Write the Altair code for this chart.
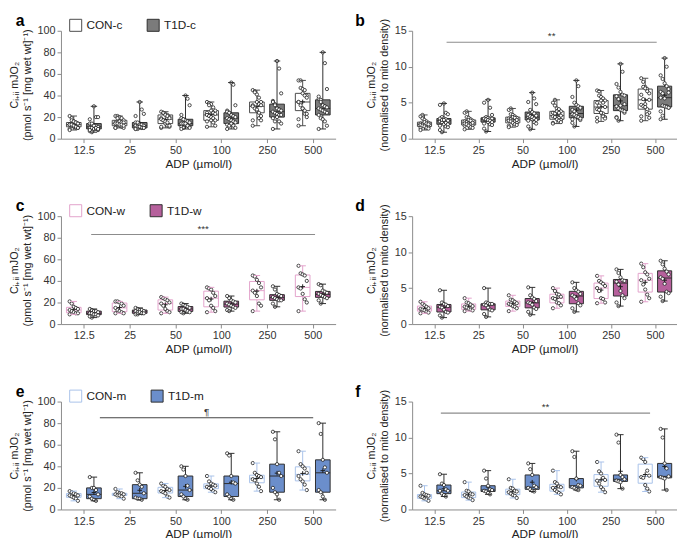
import altair as alt
import pandas as pd

ADP = ["12.5", "25", "50", "100", "250", "500"]

# ---- raw flux (pmol s-1 [mg wet wt]-1), women cohort
CON_W_RAW = [
    [21, 19, 16, 15, 14, 13, 12, 11, 10, 10, 9],
    [21, 21, 20, 19, 17, 15, 13, 12, 11, 10, 10],
    [25, 24, 23, 22, 20, 19, 17, 14, 12, 11, 10],
    [34, 33, 32, 29, 26, 24, 22, 17, 15, 12, 11],
    [45, 44, 41, 38, 34, 31, 29, 26, 19, 17, 12],
    [54, 47, 46, 45, 40, 34, 33, 28, 23, 20, 12],
]
T1D_W_RAW = [
    [14, 13, 12, 12, 11, 10, 10, 9, 9, 8, 7, 6],
    [15, 14, 13, 13, 12, 12, 11, 11, 10, 10, 9, 9],
    [19, 18, 17, 16, 15, 14, 14, 13, 12, 11, 11, 10],
    [26, 24, 22, 21, 20, 19, 18, 17, 16, 15, 13, 12],
    [35, 32, 28, 27, 26, 25, 24, 23, 22, 22, 19, 16],
    [37, 36, 31, 30, 29, 28, 27, 26, 25, 24, 22, 19],
]
# ---- raw flux, men cohort
CON_M_RAW = [
    [17, 16, 15, 14, 13, 13, 12, 11, 10, 8],
    [19, 16, 15, 15, 14, 14, 13, 13, 12, 10],
    [24, 22, 21, 19, 18, 17, 16, 15, 12, 11],
    [31, 26, 24, 23, 22, 21, 20, 19, 17, 16],
    [43, 34, 32, 31, 30, 28, 27, 24, 21, 17],
    [54, 42, 40, 38, 34, 31, 28, 26, 23, 18],
]
T1D_M_RAW = [
    [30, 20, 20, 18, 14, 12, 10, 9, 8],
    [34, 27, 23, 21, 15, 11, 10, 10, 9],
    [40, 37, 31, 22, 18, 14, 12, 10, 9],
    [52, 50, 31, 25, 24, 14, 12, 10, 9],
    [72, 65, 42, 34, 31, 20, 16, 14, 9],
    [80, 70, 46, 39, 34, 18, 16, 12, 9],
]
# ---- normalised to mito density, women
CON_W_NORM = [
    [3.1, 2.8, 2.6, 2.4, 2.2, 2.1, 2.0, 1.9, 1.7, 1.6, 1.5],
    [3.6, 3.0, 2.9, 2.7, 2.5, 2.4, 2.3, 2.1, 2.0, 1.9, 1.8],
    [4.0, 3.4, 3.3, 3.1, 2.9, 2.8, 2.7, 2.5, 2.4, 2.2, 1.8],
    [5.0, 4.6, 4.2, 4.1, 3.8, 3.6, 3.5, 3.0, 2.9, 2.6, 2.2],
    [6.7, 6.0, 5.8, 5.6, 5.3, 5.0, 4.6, 3.6, 3.5, 3.0, 2.9],
    [8.4, 7.9, 7.2, 6.9, 6.3, 6.1, 5.5, 4.8, 4.1, 3.6, 3.1],
]
T1D_W_NORM = [
    [4.7, 3.0, 2.8, 2.7, 2.5, 2.4, 2.3, 2.0, 1.7, 1.6, 1.2, 0.9],
    [5.0, 3.0, 2.9, 2.8, 2.8, 2.7, 2.6, 2.3, 2.0, 1.9, 1.4, 1.0],
    [5.1, 4.0, 3.7, 3.5, 3.2, 3.0, 2.9, 2.7, 2.3, 2.1, 1.7, 1.3],
    [5.8, 5.0, 4.7, 4.5, 4.2, 4.0, 3.8, 3.5, 2.9, 2.6, 2.2, 1.7],
    [7.6, 7.1, 6.5, 6.1, 6.0, 5.9, 5.5, 4.6, 4.0, 3.6, 3.0, 2.5],
    [8.8, 8.3, 7.7, 7.3, 6.9, 6.5, 6.3, 5.6, 4.5, 4.3, 3.8, 3.2],
]
# ---- normalised to mito density, men
CON_M_NORM = [
    [3.3, 2.3, 2.1, 2.0, 1.9, 1.8, 1.7, 1.5, 1.4, 1.2],
    [3.8, 2.6, 2.5, 2.2, 2.1, 2.0, 1.8, 1.6, 1.5, 1.3],
    [4.2, 3.0, 2.9, 2.6, 2.5, 2.4, 2.2, 2.0, 1.9, 1.6],
    [5.4, 3.8, 3.6, 3.2, 3.1, 3.0, 2.7, 2.5, 2.3, 2.1],
    [6.6, 5.3, 5.0, 4.4, 4.1, 4.0, 3.6, 3.1, 2.8, 2.4],
    [7.2, 7.0, 6.6, 5.4, 4.7, 4.5, 4.4, 3.4, 2.9, 2.5],
]
T1D_M_NORM = [
    [4.9, 3.6, 3.4, 2.8, 2.6, 2.6, 2.2, 2.0, 1.8],
    [5.4, 4.3, 3.3, 2.8, 2.7, 2.6, 2.5, 2.3, 2.1],
    [6.4, 5.6, 4.8, 3.3, 3.1, 3.0, 2.8, 2.6, 2.5],
    [8.1, 7.3, 4.3, 3.4, 3.3, 3.1, 3.0, 2.8, 2.7],
    [10.4, 9.3, 4.8, 4.5, 4.2, 4.0, 3.9, 3.8, 2.9],
    [11.2, 10.0, 6.4, 5.7, 4.6, 4.5, 4.4, 4.3, 2.7],
]

# significance bars: (start, end in category units, y value, label, colour)
SIG_B = (0.78, 5.54, 13.4, "**", "#8c8c8c")
SIG_C = (0.66, 5.55, 83, "***", "#8c8c8c")
SIG_E = (0.85, 5.51, 85, "¶", "#444444")
SIG_F = (0.65, 5.39, 13.4, "**", "#8c8c8c")

FONT = "Liberation Sans"
AXIS_GREY = "#8a8a8a"


def combine(a, b):
    return [x + y for x, y in zip(a, b)]


def long_df(con, t1d, names):
    rows = []
    for i, adp in enumerate(ADP):
        for side, series in enumerate((con, t1d)):
            for k, v in enumerate(series[i]):
                rows.append({"idx": i, "adp": adp, "group": names[side],
                             "side": side, "k": k, "value": v})
    return pd.DataFrame(rows)


def panel(df, names, con_stroke, t1d_fill, ymax, ystep, ytitle, letter,
          show_legend, sig, width, letter_dx):
    fill_scale = alt.Scale(domain=names, range=["#ffffff", t1d_fill])
    stroke_scale = alt.Scale(domain=names, range=[con_stroke, "#2e2e2e"])
    xs = alt.Scale(domain=[0, 6], nice=False, zero=False)
    ys = alt.Scale(domain=[0, ymax], nice=False, zero=True)
    xaxis = alt.Axis(values=[0.5, 1.5, 2.5, 3.5, 4.5, 5.5],
                     labelExpr="['12.5','25','50','100','250','500'][floor(datum.value)]",
                     title="ADP (µmol/l)", grid=False, domain=True, ticks=True,
                     labelOverlap=False)
    yaxis = alt.Axis(values=[float(v) for v in range(0, ymax + 1, ystep)],
                     title=ytitle, grid=False, domain=True, ticks=True,
                     labelOverlap=False, labelBound=False, labelFlush=False)

    def X(f):
        return alt.X(f, type="quantitative", scale=xs, axis=xaxis)

    def Y(f):
        return alt.Y(f, type="quantitative", scale=ys, axis=yaxis)

    if show_legend:
        leg = alt.Legend(title=None, orient="none", direction="horizontal",
                         legendX=8, legendY=-13, symbolType="square",
                         symbolSize=150, symbolStrokeWidth=1,
                         labelFontSize=12, labelFont=FONT, labelColor="#222",
                         columnPadding=22)
    else:
        leg = None

    base = alt.Chart(df)
    stats = base.transform_aggregate(
        q1="q1(value)", q3="q3(value)", med="median(value)",
        mn="min(value)", mx="max(value)", mean="mean(value)",
        groupby=["idx", "side", "group"],
    ).transform_calculate(
        xc="datum.idx + 0.5 + (datum.side == 0 ? -0.22 : 0.22)",
    ).transform_calculate(
        xl="datum.xc - 0.16", xr="datum.xc + 0.16",
        cl="datum.xc - 0.07", cr="datum.xc + 0.07",
    )
    stroke_enc = alt.Stroke("group:N", scale=stroke_scale, legend=leg)

    whisker = stats.mark_rule(strokeWidth=1).encode(
        x=X("xc"), y=Y("mn"), y2="mx:Q", stroke=stroke_enc)
    box = stats.mark_bar(strokeWidth=1).encode(
        x=X("xl"), x2="xr:Q", y=Y("q1"), y2="q3:Q",
        fill=alt.Fill("group:N", scale=fill_scale, legend=leg),
        stroke=stroke_enc,
    )
    median = stats.mark_rule(strokeWidth=1).encode(
        x=X("xl"), x2="xr:Q", y=Y("med"), stroke=stroke_enc)
    cap_lo = stats.mark_rule(strokeWidth=1).encode(
        x=X("cl"), x2="cr:Q", y=Y("mn"), stroke=stroke_enc)
    cap_hi = stats.mark_rule(strokeWidth=1).encode(
        x=X("cl"), x2="cr:Q", y=Y("mx"), stroke=stroke_enc)
    mean = stats.mark_point(shape="M-1,0L1,0M0,-1L0,1", size=22, strokeWidth=1,
                            color="#1e1e1e", filled=False, opacity=1).encode(
        x=X("xc"), y=Y("mean"))
    pts = base.transform_calculate(
        xp="datum.idx + 0.5 + (datum.side == 0 ? -0.22 : 0.22) + ((datum.k % 5) - 2) * 0.045"
    ).mark_circle(size=11, fill="white", stroke="#1e1e1e", strokeWidth=0.8,
                  opacity=1).encode(x=X("xp"), y=Y("value"))

    # panel letter (annotation, placed in the top-left corner of the panel)
    tag = alt.Chart(pd.DataFrame({"t": [letter]})).mark_text(
        align="left", baseline="middle", fontSize=16, fontWeight="bold",
        font=FONT, color="#000").encode(
        x=alt.value(letter_dx), y=alt.value(-10), text="t:N")

    layers = [whisker, box, median, mean, pts, cap_lo, cap_hi, tag]
    if sig is not None:
        sdf = pd.DataFrame([{"x1": sig[0], "x2": sig[1], "yv": sig[2],
                             "xm": (sig[0] + sig[1]) / 2, "lab": sig[3]}])
        sc = alt.Chart(sdf)
        layers.append(sc.mark_rule(color=sig[4], strokeWidth=1.2).encode(
            x=X("x1"), x2="x2:Q", y=Y("yv")))
        layers.append(sc.mark_text(dy=-6, fontSize=10, font=FONT, color="#333").encode(
            x=X("xm"), y=Y("yv"), text="lab:N"))
    return alt.layer(*layers).properties(width=width, height=110)


RAW_TITLE = ["Cᵢ₊ᵢᵢ mJO₂", "(pmol s⁻¹ [mg wet wt]⁻¹)"]
NORM_TITLE = ["Cᵢ₊ᵢᵢ mJO₂", "(normalised to mito density)"]

rows_spec = [
    ("c", combine(CON_W_RAW, CON_M_RAW), combine(T1D_W_RAW, T1D_M_RAW),
     combine(CON_W_NORM, CON_M_NORM), combine(T1D_W_NORM, T1D_M_NORM),
     "#4a4a4a", "#7b7b7b", None, SIG_B, "a", "b"),
    ("w", CON_W_RAW, T1D_W_RAW, CON_W_NORM, T1D_W_NORM,
     "#e2a2cb", "#b6609c", SIG_C, None, "c", "d"),
    ("m", CON_M_RAW, T1D_M_RAW, CON_M_NORM, T1D_M_NORM,
     "#a8c2ea", "#6b8ecb", SIG_E, SIG_F, "e", "f"),
]

rows = []
for tag_, cr, tr, cn, tn, cstroke, tfill, sig_l, sig_r, la, lb in rows_spec:
    names = [f"CON-{tag_}", f"T1D-{tag_}"]
    left = panel(long_df(cr, tr, names), names, cstroke, tfill, 100, 20,
                 RAW_TITLE, la, True, sig_l, 280, -46)
    right = panel(long_df(cn, tn, names), names, cstroke, tfill, 15, 5,
                  NORM_TITLE, lb, False, sig_r, 270, -58)
    rows.append(alt.hconcat(left, right, spacing=20))

chart = alt.vconcat(*rows, spacing=30).resolve_scale(
    x="independent", y="independent", fill="independent", stroke="independent"
).properties(padding=0).configure_view(stroke=None).configure_axis(
    labelFont=FONT, titleFont=FONT, labelFontSize=11, titleFontSize=11,
    labelColor="#333", titleColor="#222", domainColor=AXIS_GREY,
    tickColor=AXIS_GREY, tickSize=4, titleFontWeight="normal", labelPadding=2,
).configure_axisX(titleFontSize=12, titlePadding=3).configure_axisY(titlePadding=5)

chart.save("out.html", embed_options={"renderer": "svg", "actions": False})
